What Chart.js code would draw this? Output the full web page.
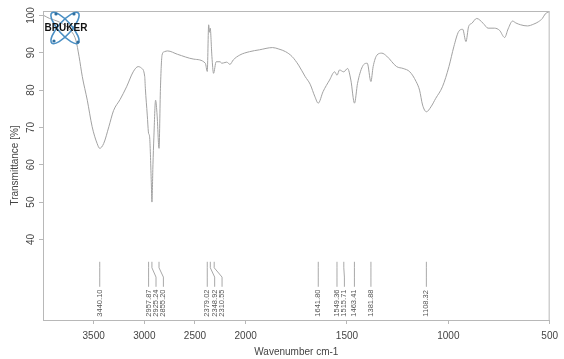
<!DOCTYPE html>
<html>
<head>
<meta charset="utf-8">
<script src="https://cdn.jsdelivr.net/npm/chart.js@4"></script>
<style>
html, body { margin: 0; padding: 0; background: #fff; }
#wrap { width: 564px; height: 359px; }
</style>
</head>
<body>
<div id="wrap"><canvas id="irChart" width="564" height="359"></canvas></div>
<script>
// Spectrum (cm-1 / %T)
const wavenumbers = [
    3999, 3935, 3870, 3809, 3740, 3676, 3644, 3612, 3563, 3515, 3466, 3440, 3401, 3350, 3304,
    3239, 3175, 3110, 3061, 3029, 2996, 2990, 2971, 2960, 2957, 2948, 2932, 2925, 2915, 2906,
    2889, 2874, 2855, 2841, 2825, 2802, 2770, 2673, 2511, 2398, 2379, 2365, 2357, 2350, 2333,
    2317, 2291, 2252, 2236, 2204, 2187, 2155, 2122, 2058, 1981, 1932, 1867, 1836, 1803, 1771,
    1739, 1706, 1682, 1658, 1642, 1618, 1586, 1561, 1549, 1537, 1516, 1497, 1481, 1463, 1448,
    1424, 1400, 1382, 1371, 1352, 1328, 1304, 1255, 1223, 1190, 1159, 1142, 1127, 1108, 1086,
    1062, 1029, 997, 973, 949, 929, 913, 900, 884, 860, 828, 804, 772, 747, 722,
    705, 683, 667, 643, 610, 578, 556, 536, 522, 502
];
const transmittance = [
    100.1, 99.2, 98.6, 97.8, 96.3, 93.4, 89.0, 83.6, 77.3, 70.2, 65.7, 64.4, 65.7, 70.2, 74.5,
    77.5, 80.9, 84.9, 86.3, 85.9, 83.6, 80.5, 73.3, 68.8, 68.3, 67.5, 56.0, 50.0, 60.0, 67.2,
    77.3, 73.3, 64.4, 80.5, 89.4, 90.3, 90.5, 89.6, 88.3, 87.2, 85.0, 97.5, 95.5, 96.6, 89.0,
    84.5, 87.6, 87.6, 87.2, 87.4, 87.5, 86.9, 88.1, 89.4, 90.3, 90.8, 91.4, 91.0, 90.3, 89.0,
    86.7, 83.6, 81.6, 78.2, 76.5, 79.6, 82.7, 84.9, 84.0, 85.4, 84.9, 85.8, 82.7, 76.5, 81.8,
    86.3, 87.2, 82.3, 86.3, 89.4, 89.9, 89.1, 86.3, 85.8, 84.9, 82.3, 80.0, 76.0, 74.2, 75.5,
    77.8, 80.9, 86.3, 91.6, 95.7, 96.3, 93.0, 97.0, 97.9, 99.2, 97.9, 96.6, 96.6, 96.0, 94.1,
    96.4, 98.5, 98.0, 97.5, 97.2, 97.7, 98.3, 99.2, 100.4, 101.0
];
const peakWavenumbers = [3440.10, 2957.87, 2925.24, 2855.20, 2379.02, 2348.92, 2310.55,
    1641.80, 1549.36, 1515.71, 1463.41, 1381.88, 1108.32];
const xTickWavenumbers = [3500, 3000, 2500, 2000, 1500, 1000, 500];
const yTickValues = [40, 50, 60, 70, 80, 90, 100];

// Bruker plots stretch the region below 2000 cm-1 by a factor of 2
function toAxis(wn) { return wn > 2000 ? 2000 + (wn - 2000) / 2 : wn; }
function fromAxis(v) { return v > 2000 ? 2000 + (v - 2000) * 2 : v; }

const FONT = '"Liberation Sans", Arial, sans-serif';
const AXIS_GRAY = '#b8b8b8';

const decorPlugin = {
    id: 'decor',
    afterDraw(chart) {
        const ctx = chart.ctx;
        const area = chart.chartArea;
        const xs = chart.scales.x;
        const ys = chart.scales.y;

        // frame box
        ctx.save();
        ctx.strokeStyle = AXIS_GRAY;
        ctx.lineWidth = 1;
        ctx.strokeRect(area.left + 0.5, area.top + 0.5, area.right - area.left - 1, area.bottom - area.top);

        // y tick labels, rotated like R plots
        ctx.fillStyle = '#444';
        ctx.font = '10px ' + FONT;
        ctx.textAlign = 'center';
        ctx.textBaseline = 'middle';
        yTickValues.forEach(v => {
            ctx.save();
            ctx.translate(area.left - 12, ys.getPixelForValue(v));
            ctx.rotate(-Math.PI / 2);
            ctx.fillText(String(v), 0, 0);
            ctx.restore();
        });

        // peak markers with spread labels
        const yTop = ys.getPixelForValue(34);
        const yBend1 = ys.getPixelForValue(32.4);
        const yBend2 = ys.getPixelForValue(29.9);
        const yBottom = ys.getPixelForValue(27.3);
        const yText = ys.getPixelForValue(19.3);
        let prev = -Infinity;
        ctx.strokeStyle = '#a8a8a8';
        ctx.fillStyle = '#555';
        ctx.font = '7.5px ' + FONT;
        ctx.textAlign = 'left';
        peakWavenumbers.forEach(wn => {
            const px = xs.getPixelForValue(toAxis(wn));
            const lx = Math.max(px, prev + 7.4);
            prev = lx;
            ctx.beginPath();
            ctx.moveTo(px, yTop);
            ctx.lineTo(px, yBend1);
            ctx.lineTo(lx, yBend2);
            ctx.lineTo(lx, yBottom);
            ctx.stroke();
            ctx.save();
            ctx.translate(lx, yText);
            ctx.rotate(-Math.PI / 2);
            ctx.fillText(wn.toFixed(2), 0, 0);
            ctx.restore();
        });

        // Bruker logo
        const cx = area.left + 22, cy = area.top + 17;
        ctx.strokeStyle = '#4a8fc4';
        ctx.lineWidth = 1.6;
        [0.85, -0.85].forEach(a => {
            ctx.beginPath();
            ctx.ellipse(cx, cy, 20, 6.5, a, 0, Math.PI * 2);
            ctx.stroke();
        });
        ctx.fillStyle = '#2f6f9f';
        [[cx - 9, cy - 14], [cx + 13, cy + 14], [cx - 11, cy + 13], [cx + 9, cy - 14]].forEach(p => {
            ctx.beginPath();
            ctx.arc(p[0], p[1], 1.6, 0, Math.PI * 2);
            ctx.fill();
        });
        ctx.fillStyle = '#111';
        ctx.font = 'bold 10px ' + FONT;
        ctx.textAlign = 'center';
        ctx.textBaseline = 'middle';
        ctx.fillText('BRUKER', cx + 1, cy + 0.5);
        ctx.restore();
    }
};

new Chart(document.getElementById('irChart'), {
    type: 'line',
    data: {
        datasets: [{
            data: wavenumbers.map((wn, i) => ({ x: toAxis(wn), y: transmittance[i] })),
            borderColor: '#a2a2a2',
            borderWidth: 1,
            pointRadius: 0,
            cubicInterpolationMode: 'monotone',
            fill: false
        }]
    },
    options: {
        responsive: false,
        animation: false,
        devicePixelRatio: 1,
        layout: { padding: { top: 11, right: 5, left: 0, bottom: 0 } },
        plugins: { legend: { display: false }, tooltip: { enabled: false } },
        scales: {
            x: {
                type: 'linear',
                reverse: true,
                min: 500,
                max: 3000,
                afterBuildTicks: s => { s.ticks = xTickWavenumbers.map(wn => ({ value: toAxis(wn) })); },
                afterFit: s => { s.height = 39; },
                grid: { drawOnChartArea: false, drawTicks: true, tickLength: 4, color: AXIS_GRAY },
                border: { color: AXIS_GRAY },
                ticks: {
                    color: '#444',
                    font: { size: 10, family: FONT },
                    padding: 6,
                    maxRotation: 0,
                    callback: v => String(fromAxis(v))
                },
                title: {
                    display: true,
                    text: 'Wavenumber cm-1',
                    color: '#444',
                    font: { size: 10, family: FONT },
                    padding: { top: 0, bottom: 0.5 }
                }
            },
            y: {
                min: 18.4,
                max: 101.2,
                afterBuildTicks: s => { s.ticks = yTickValues.map(v => ({ value: v })); },
                afterFit: s => { s.width = 43; },
                grid: { drawOnChartArea: false, drawTicks: true, tickLength: 4, color: AXIS_GRAY },
                border: { color: AXIS_GRAY },
                ticks: { display: false },
                title: {
                    display: true,
                    text: 'Transmittance [%]',
                    color: '#444',
                    font: { size: 10, family: FONT },
                    padding: { top: 9, bottom: 0 }
                }
            }
        }
    },
    plugins: [decorPlugin]
});
</script>
</body>
</html>
